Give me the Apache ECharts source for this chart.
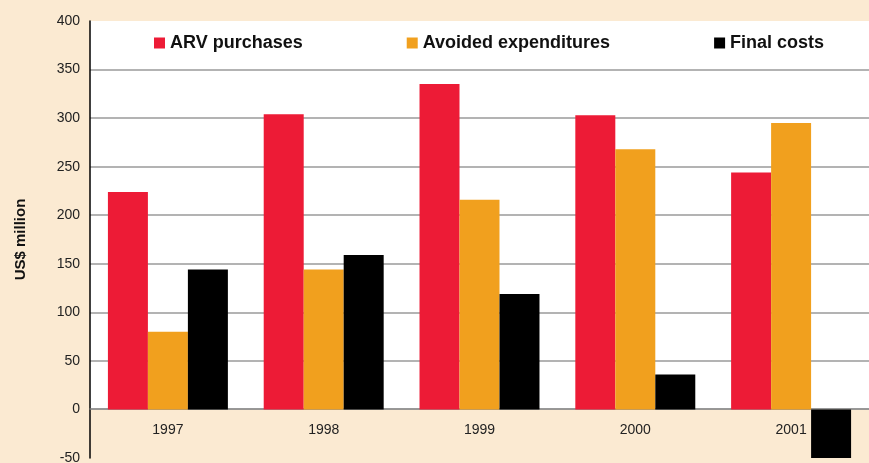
<!DOCTYPE html>
<html>
<head>
<meta charset="utf-8">
<script src="https://cdn.jsdelivr.net/npm/echarts@6/dist/echarts.min.js"></script>
<style>
  html, body { margin: 0; padding: 0; background: #fbead2; }
  #mainChart { width: 869px; height: 463px; }
</style>
</head>
<body>
<div id="mainChart"></div>
<script>
var years = ['1997', '1998', '1999', '2000', '2001'];
var arvPurchases = [224, 304, 335, 303, 244];
var avoidedExpenditures = [80, 144, 216, 268, 295];
var finalCosts = [144, 159, 119, 36, -50];

function chartInit() {
  var myChart = echarts.init(document.getElementById('mainChart'));

  // grid lines only between 50 and 350
  var gridColors = ['rgba(0,0,0,0)', 'rgba(0,0,0,0)', '#9a9a9a', '#9a9a9a', '#9a9a9a',
    '#9a9a9a', '#9a9a9a', '#9a9a9a', '#9a9a9a', 'rgba(0,0,0,0)'];

  var option = {
    backgroundColor: '#fbead2',
    textStyle: { fontFamily: 'Liberation Sans, Arial, sans-serif' },
    legend: {
      top: 34,
      left: 154,
      padding: 0,
      itemWidth: 11,
      itemHeight: 11,
      itemGap: 104,
      icon: 'rect',
      textStyle: { fontSize: 18, fontWeight: 'bold', color: '#111' },
      data: ['ARV purchases', 'Avoided expenditures', 'Final costs']
    },
    grid: { left: 90, right: 0, top: 21, bottom: 5, outerBoundsMode: 'none' },
    xAxis: {
      type: 'category',
      data: years,
      offset: -49,
      z: 1,
      axisLine: { onZero: false, lineStyle: { color: '#777', width: 1.5 } },
      axisTick: { length: 4, lineStyle: { color: '#555' } },
      axisLabel: { fontSize: 14, color: '#222', margin: 14 }
    },
    yAxis: {
      type: 'value',
      min: -50,
      max: 400,
      interval: 50,
      z: 1,
      name: 'US$ million',
      nameLocation: 'middle',
      nameGap: 62,
      nameTextStyle: { fontSize: 15, fontWeight: 'bold', color: '#111' },
      axisLine: { show: true, lineStyle: { color: '#000', width: 1.5 } },
      axisTick: { show: false },
      axisLabel: { fontSize: 14, color: '#222', margin: 10 },
      splitLine: { show: true, lineStyle: { color: gridColors, width: 1.5 } }
    },
    series: [
      {
        name: 'bg',
        type: 'line',
        data: [],
        z: 0,
        silent: true,
        markArea: {
          silent: true,
          z: 0,
          itemStyle: { color: '#ffffff' },
          data: [[{ yAxis: 0 }, { yAxis: 400 }]]
        }
      },
      {
        name: 'ARV purchases',
        type: 'bar',
        data: arvPurchases,
        barGap: '0%',
        barCategoryGap: '23%',
        itemStyle: { color: '#ed1b36' }
      },
      {
        name: 'Avoided expenditures',
        type: 'bar',
        data: avoidedExpenditures,
        itemStyle: { color: '#f1a01e' }
      },
      {
        name: 'Final costs',
        type: 'bar',
        data: finalCosts,
        itemStyle: { color: '#000000' }
      }
    ]
  };
  myChart.setOption(option);
}

chartInit();
</script>
</body>
</html>
